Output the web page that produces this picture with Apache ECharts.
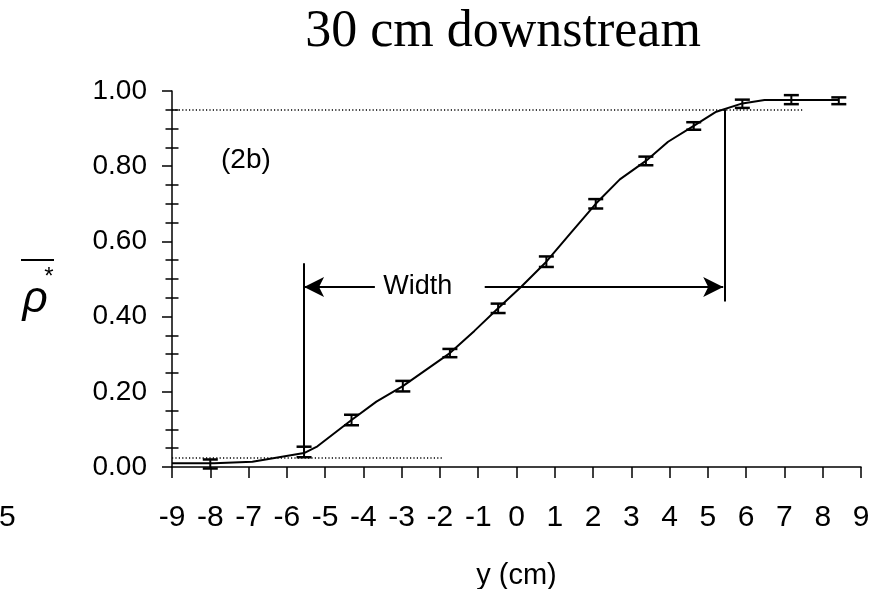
<!DOCTYPE html>
<html>
<head>
<meta charset="utf-8">
<script src="https://cdn.jsdelivr.net/npm/echarts@6/dist/echarts.min.js"></script>
<style>
  html, body { margin: 0; padding: 0; background: #fff; }
  #chart { width: 880px; height: 589px; }
</style>
</head>
<body>
<div id="chart"></div>
<script>
// Measured mean density profile, 30 cm downstream (y in cm)
const positions = [-8.0, -5.55, -4.31, -2.97, -1.74, -0.48, 0.78, 2.07, 3.38, 4.63, 5.9, 7.18, 8.42];
const meanRho   = [0.008, 0.040, 0.125, 0.215, 0.303, 0.422, 0.546, 0.700, 0.814, 0.907, 0.966, 0.977, 0.974];
const errRho    = [0.012, 0.014, 0.014, 0.014, 0.011, 0.0125, 0.014, 0.0125, 0.0115, 0.010, 0.011, 0.012, 0.009];

// Fitted profile curve
const fitY   = [-9.0, -7.9, -6.9, -5.55, -5.2, -4.31, -3.66, -2.97, -1.74, -1.1, -0.48, 0.13, 0.78, 1.43, 2.07, 2.70, 3.38, 3.96, 4.63, 5.22, 5.9, 6.48, 7.18, 8.42];
const fitRho = [0.010, 0.010, 0.014, 0.037, 0.055, 0.125, 0.174, 0.215, 0.303, 0.362, 0.422, 0.480, 0.546, 0.624, 0.700, 0.765, 0.814, 0.865, 0.907, 0.945, 0.967, 0.976, 0.976, 0.976];

// Mixing-layer width: thresholds and edges
const thresholdLow  = 0.025;
const thresholdHigh = 0.95;
const lowLineEnd  = -1.92;
const highLineEnd = 7.47;
const edgeLeft  = -5.55;
const edgeRight = 5.44;
const edgeLeftTop = 0.542;
const edgeLeftBottom = 0.04;
const edgeRightBottom = 0.44;
const arrowLevel = 0.479;
const arrowLeftTail = -3.70;
const arrowRightTail = -0.83;
const widthLabelX = -2.58;

// Axis ticks
const xTicks = { min: -9, max: 9, step: 1 };
const yTicks = { min: 0, max: 1, step: 0.2 };

const black = '#000';
const sans = '"Liberation Sans", Arial, sans-serif';

const fitData = fitY.map((x, i) => [x, fitRho[i]]);
const errData = positions.map((x, i) => [x, meanRho[i], errRho[i]]);

const dotted = { color: black, width: 1.5, type: [1.2, 2.2] };
const solid = { color: black, width: 2, type: 'solid' };

const chart = echarts.init(document.getElementById('chart'), null, { renderer: 'canvas' });

chart.setOption({
  animation: false,
  backgroundColor: '#fff',
  grid: { left: 172, right: 19, top: 91, bottom: 122, containLabel: false, outerBoundsMode: 'none' },
  xAxis: {
    type: 'value',
    min: xTicks.min, max: xTicks.max, interval: xTicks.step,
    name: 'y (cm)',
    nameLocation: 'middle',
    nameGap: 94,
    nameTextStyle: { fontFamily: sans, fontSize: 29, color: black },
    axisLine: { onZero: false, lineStyle: { color: black, width: 1.5 } },
    axisTick: { length: 11, lineStyle: { color: black, width: 1.5 } },
    axisLabel: { margin: 36, fontFamily: sans, fontSize: 30, color: black },
    splitLine: { show: false }
  },
  yAxis: [
    {
      type: 'value',
      min: yTicks.min, max: yTicks.max, interval: yTicks.step,
      axisLine: { onZero: false, lineStyle: { color: black, width: 1.5 } },
      axisTick: { length: 10, lineStyle: { color: black, width: 1.5 } },
      minorTick: { show: true, splitNumber: 4, length: 6.5, lineStyle: { color: black, width: 1.5 } },
      axisLabel: { margin: 25, fontFamily: sans, fontSize: 28, color: black, formatter: v => v.toFixed(2) },
      splitLine: { show: false }
    },
    {
      // inward half of the minor ticks
      type: 'value',
      position: 'left',
      min: yTicks.min, max: yTicks.max, interval: yTicks.step,
      axisLine: { show: false, onZero: false },
      axisTick: { show: false, inside: true },
      minorTick: { show: true, splitNumber: 4, length: 6.5, lineStyle: { color: black, width: 1.5 } },
      axisLabel: { show: false },
      splitLine: { show: false }
    }
  ],
  series: [
    {
      name: 'fit',
      type: 'line',
      data: fitData,
      symbol: 'none',
      lineStyle: { color: black, width: 2 },
      silent: true,
      z: 3,
      markLine: {
        silent: true,
        symbol: ['none', 'none'],
        label: { show: false },
        emphasis: { disabled: true },
        data: [
          [{ coord: [xTicks.min, thresholdHigh], lineStyle: dotted }, { coord: [highLineEnd, thresholdHigh] }],
          [{ coord: [xTicks.min, thresholdLow], lineStyle: dotted }, { coord: [lowLineEnd, thresholdLow] }],
          [{ coord: [edgeLeft, edgeLeftBottom], lineStyle: solid }, { coord: [edgeLeft, edgeLeftTop] }],
          [{ coord: [edgeRight, edgeRightBottom], lineStyle: solid }, { coord: [edgeRight, thresholdHigh] }],
          [{ coord: [arrowLeftTail, arrowLevel], lineStyle: solid }, { coord: [edgeLeft, arrowLevel], symbol: 'arrow', symbolSize: [15, 20] }],
          [{ coord: [arrowRightTail, arrowLevel], lineStyle: solid }, { coord: [edgeRight - 0.04, arrowLevel], symbol: 'arrow', symbolSize: [15, 20] }]
        ]
      },
      markPoint: {
        silent: true,
        symbol: 'rect',
        symbolSize: 1,
        itemStyle: { color: 'rgba(0,0,0,0)' },
        label: { show: true, position: 'inside', formatter: p => p.name, fontFamily: sans, fontSize: 27, color: black },
        data: [{ name: 'Width', coord: [widthLabelX, arrowLevel] }]
      }
    },
    {
      name: 'measured',
      type: 'custom',
      data: errData,
      encode: { x: 0, y: 1 },
      silent: true,
      z: 4,
      renderItem: (params, api) => {
        const x = api.value(0), y = api.value(1), e = api.value(2);
        const top = api.coord([x, y + e]);
        const bot = api.coord([x, y - e]);
        const hw = 7.5;
        const st = { stroke: black, lineWidth: 2 };
        const cap = { stroke: black, lineWidth: 2.5 };
        return {
          type: 'group',
          children: [
            { type: 'line', shape: { x1: top[0], y1: top[1], x2: bot[0], y2: bot[1] }, style: st },
            { type: 'line', shape: { x1: top[0] - hw, y1: top[1], x2: top[0] + hw, y2: top[1] }, style: cap },
            { type: 'line', shape: { x1: bot[0] - hw, y1: bot[1], x2: bot[0] + hw, y2: bot[1] }, style: cap }
          ]
        };
      }
    }
  ],
  graphic: [
    { type: 'text', x: 503, y: 32, style: { text: '30 cm downstream', fontFamily: '"Liberation Serif", "Times New Roman", serif', fontSize: 52, fill: black, textAlign: 'center', textVerticalAlign: 'middle' } },
    { type: 'text', x: 221, y: 160, style: { text: '(2b)', fontFamily: sans, fontSize: 28, fill: black, textAlign: 'left', textVerticalAlign: 'middle' } },
    { type: 'text', x: -1, y: 518, style: { text: '5', fontFamily: sans, fontSize: 30, fill: black, textAlign: 'left', textVerticalAlign: 'middle' } },
    { type: 'line', shape: { x1: 21, y1: 260, x2: 54, y2: 260 }, style: { stroke: black, lineWidth: 2 } },
    { type: 'text', x: 49, y: 277, style: { text: '*', fontFamily: sans, fontSize: 24, fill: black, textAlign: 'center', textVerticalAlign: 'middle' } },
    { type: 'text', x: 35, y: 300, style: { text: 'ρ', fontFamily: sans, fontStyle: 'italic', fontSize: 44, fill: black, textAlign: 'center', textVerticalAlign: 'middle' } }
  ]
});
</script>
</body>
</html>
